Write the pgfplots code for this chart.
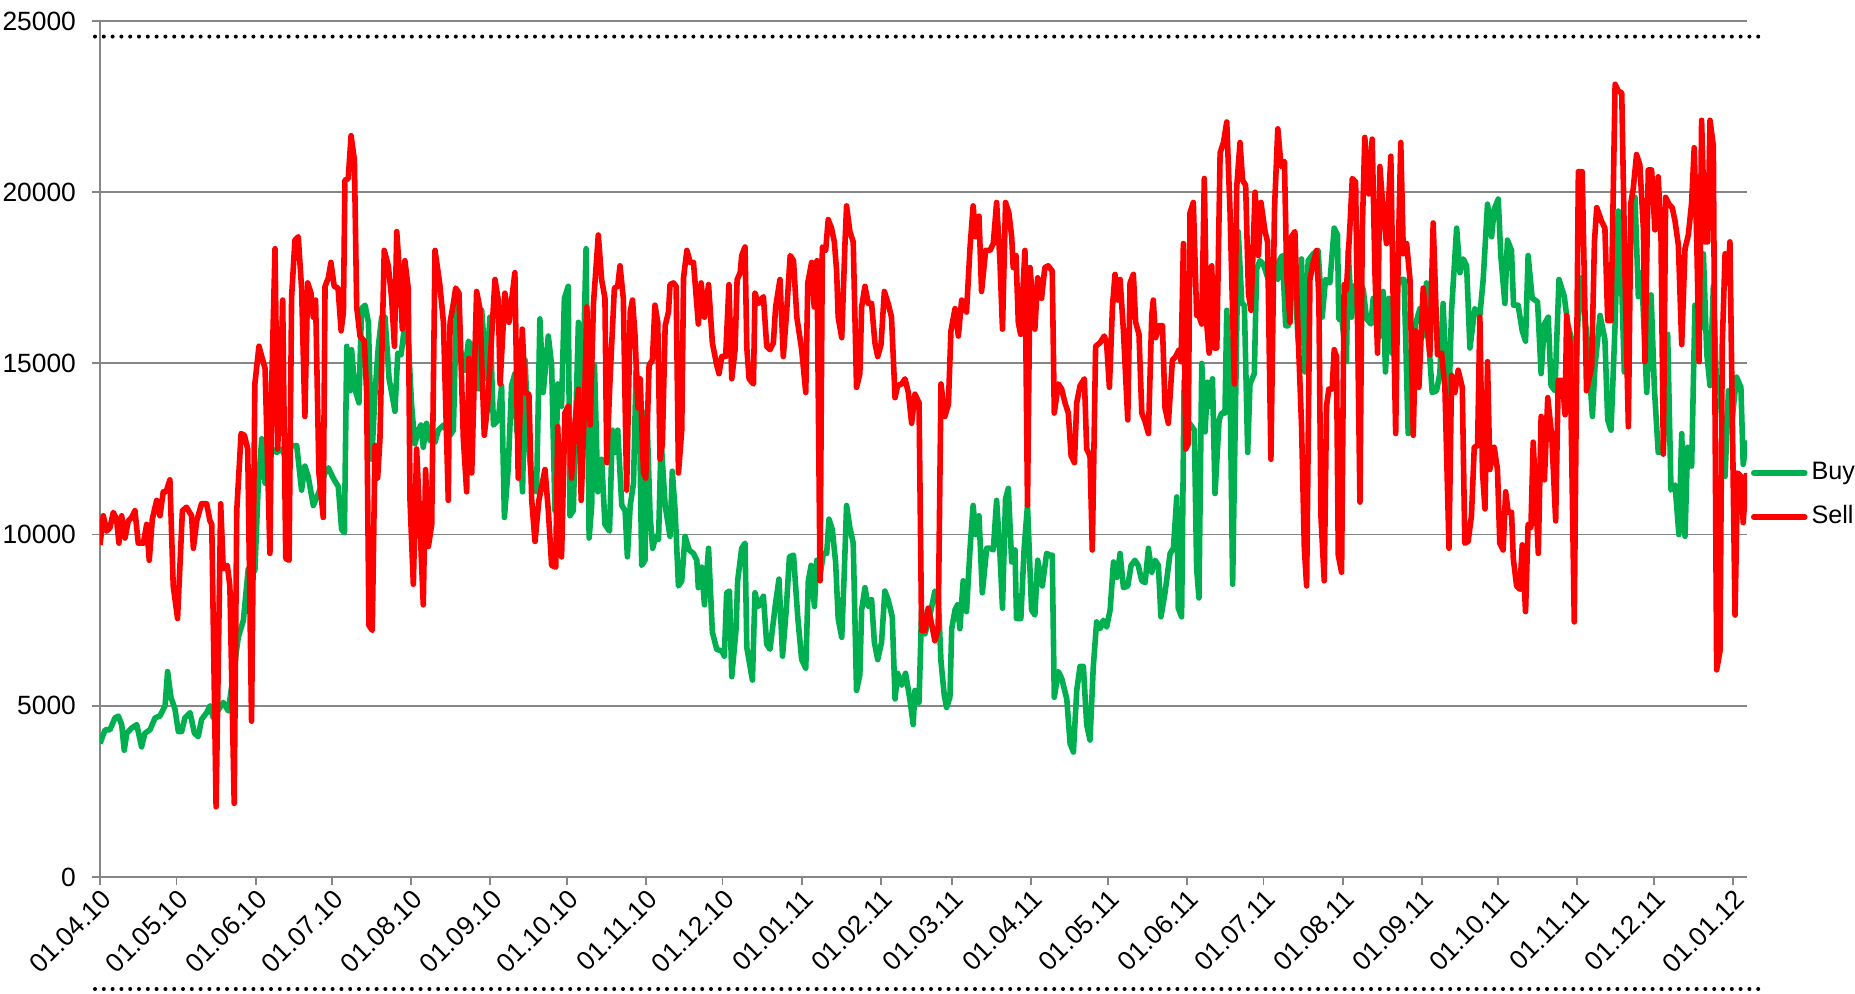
\documentclass[border=0pt]{standalone}
\usepackage{fontspec}
\setmainfont{Liberation Sans}
\usepackage{pgfplots}
\pgfplotsset{compat=1.18}
\usepackage{pgfplotstable}
\definecolor{buyc}{HTML}{00B050}
\definecolor{sellc}{HTML}{FF0000}
\definecolor{gridc}{HTML}{868686}

\pgfplotstableread{
day val
0.0 3900
2.0 4300
3.9 4300
5.9 4650
7.2 4700
8.5 4450
9.5 3700
10.5 4200
12.4 4350
14.4 4450
16.3 3800
17.6 4200
19.6 4300
21.6 4650
23.5 4700
25.5 5000
26.5 6000
27.8 5250
29.4 4900
30.7 4250
32.0 4250
33.3 4650
35.3 4800
37.0 4200
38.5 4100
39.8 4600
41.8 4800
43.1 5000
44.4 4650
48.3 5100
50.3 4850
54.2 7000
56.2 7500
58.1 9000
60.7 8950
62.0 11400
63.4 12800
64.7 11500
66.0 12200
67.9 12500
69.2 12400
71.2 12500
73.2 12200
75.1 12600
77.1 12600
79.0 11300
80.3 12000
81.6 11700
83.6 10850
85.6 11200
88.2 11800
89.5 11950
91.4 11650
93.4 11400
94.7 10150
95.8 10050
96.7 15500
98.0 14200
98.6 15400
99.9 14250
101.5 13850
102.5 16600
103.9 16700
105.2 16200
106.5 12200
107.8 14150
109.1 15500
110.4 16350
111.7 16350
113.3 14550
114.3 14150
115.6 13600
116.7 15300
118.0 15250
118.9 15800
120.2 16600
122.1 13800
123.4 12650
124.8 13050
125.8 13200
126.7 12550
128.0 13250
129.3 12750
131.3 12700
132.6 13050
134.6 13200
137.2 12900
138.5 13050
139.8 17050
141.1 15400
143.0 14800
144.4 15650
145.7 15500
147.0 14400
148.3 14250
149.6 16550
151.5 14550
152.8 16350
154.2 13200
156.1 13350
157.4 14350
158.5 10500
160.0 11950
161.3 14350
162.6 14700
163.3 13050
164.6 12750
165.6 11250
166.6 15100
167.9 12750
169.2 11500
171.1 11250
172.4 16300
173.7 14150
175.7 15800
177.0 14950
178.3 10700
179.4 14400
180.9 13750
182.0 16900
183.5 17250
184.2 10550
185.5 10700
187.5 16200
188.8 13050
190.5 18350
191.7 9900
192.7 10850
193.8 14950
195.1 11250
196.6 12200
197.9 10300
199.7 10100
200.8 13050
201.9 12400
202.9 13050
204.5 10850
205.8 10700
206.7 9350
207.8 10850
209.1 11500
210.1 14800
211.3 14150
212.3 9100
213.6 9250
214.3 13600
215.6 10550
216.6 9600
217.8 9950
218.9 9850
219.9 12750
221.5 10850
223.4 9950
224.3 11850
225.4 10700
226.7 8500
228.0 8650
229.3 9950
230.9 9550
232.6 9450
233.9 9250
234.5 8450
235.8 9050
236.9 7950
238.5 9600
240.0 7150
241.7 6650
243.7 6600
244.7 6450
245.6 8300
246.7 8350
247.6 5850
249.3 7250
249.9 8650
251.5 9600
252.8 9750
253.5 6700
255.7 5750
256.7 8300
258.0 7900
260.0 8200
261.3 6800
262.6 6650
264.6 7900
266.1 8700
267.5 6450
268.9 7750
270.2 9350
271.8 9400
273.5 7550
275.0 6350
276.6 6100
277.6 8650
278.7 9100
280.0 7900
280.9 9250
282.2 8800
283.5 9450
284.8 9450
285.7 10450
287.0 10150
288.3 9200
289.3 7550
290.7 7000
291.7 8900
292.6 10850
293.9 10200
295.2 9750
296.5 5450
297.8 5900
298.5 7800
299.8 8450
301.1 7900
302.4 8100
303.5 6850
304.8 6350
306.3 6850
307.6 8350
308.9 8100
310.5 7600
311.6 5200
312.6 5950
314.2 5600
315.7 5950
317.4 5200
318.7 4450
319.4 5450
321.0 5100
322.0 7800
323.3 7100
325.3 7650
327.2 8350
328.5 8200
329.6 6300
330.9 5300
331.8 4950
333.1 5250
333.8 7250
335.1 7800
336.1 7950
337.0 7250
338.3 8650
339.6 7750
341.0 9600
342.2 10850
343.2 10000
344.5 10550
345.8 8300
347.5 9600
348.8 9600
350.1 9550
351.4 11000
352.7 9450
353.7 7850
354.9 11050
356.0 11350
357.3 9200
358.6 9550
359.2 7550
360.9 7550
362.2 9600
363.5 10850
365.1 7800
366.4 7650
367.5 9250
369.3 8500
371.0 9450
372.3 9400
373.2 9400
374.0 5250
375.6 6000
376.9 5800
378.9 5200
380.2 3900
381.5 3650
382.8 5450
384.1 6150
385.4 6150
386.7 4450
388.0 4000
389.3 6150
390.6 7450
391.9 7250
393.2 7500
394.5 7300
395.9 7800
397.2 9200
398.5 8750
399.8 9450
401.1 8450
402.8 8500
404.1 9100
405.6 9250
406.9 9100
408.3 8650
409.6 8600
410.9 9600
412.2 8900
413.5 9250
414.8 9100
415.8 7600
417.4 8300
419.4 9450
420.7 9600
422.0 11100
422.6 7850
423.9 7600
424.9 14500
426.5 13300
428.9 13050
429.8 9000
430.7 8150
431.8 15000
433.1 13000
434.1 14450
435.0 13750
436.0 14550
437.0 11200
438.6 13350
439.6 13550
440.9 13550
441.6 16550
442.9 14400
443.9 8550
445.2 14550
446.1 18850
447.5 16750
448.5 16700
449.8 12400
450.7 14400
452.4 14700
453.3 17750
454.6 18000
455.9 17900
457.9 17450
459.9 17600
461.6 17450
462.1 18000
463.4 18150
464.7 16100
465.7 16100
467.0 17900
468.3 17450
469.6 15650
470.9 18050
472.2 14750
473.5 18000
475.5 18200
477.4 18300
479.0 16350
480.3 17450
482.0 17350
483.7 18950
485.0 18750
485.5 16300
486.8 16250
488.5 15050
489.2 18300
490.5 16350
491.8 17250
493.4 17450
495.1 17150
496.4 16300
498.1 16150
499.0 16900
500.3 16100
501.6 15800
502.9 17100
503.8 14750
505.1 16900
506.4 15300
508.1 17250
509.8 17450
511.1 17450
512.7 12950
514.0 14150
515.6 16150
517.3 16600
518.6 15800
519.9 17350
521.2 15150
522.1 14150
523.8 14200
525.1 14700
526.4 16750
527.7 14400
528.7 13950
529.7 16550
531.7 18950
533.0 17650
534.3 18050
535.6 17850
536.9 15450
538.8 16600
540.8 16400
542.1 17450
543.8 19650
545.4 18700
546.4 19500
548.0 19800
549.0 18150
550.6 16750
551.6 18600
553.2 18300
554.0 16700
555.8 16700
557.4 15950
558.7 15650
559.7 18150
561.3 16900
562.4 16850
563.4 16800
564.8 14700
566.1 16150
567.6 16350
568.7 14350
570.2 14200
571.8 17450
573.9 16950
575.2 16150
576.8 15700
578.1 14350
580.0 17500
581.3 16800
583.0 15600
584.9 13450
585.9 14900
587.9 16400
589.8 15700
590.9 13350
592.2 13050
593.8 16150
595.1 19450
596.4 17250
597.4 14750
598.7 16150
600.3 19300
601.6 19850
602.9 16950
604.2 17650
606.2 14150
607.9 17000
609.2 14250
610.7 12400
612.7 12400
614.4 15850
615.7 11300
617.3 11450
618.8 10000
619.9 12950
621.2 9950
622.2 12550
623.8 12000
625.1 16700
627.1 16000
628.4 18200
629.7 15300
631.0 14350
632.3 17250
633.6 14200
634.9 14200
636.9 11700
638.2 14200
639.5 13250
641.4 14600
643.1 14300
644.0 12050
645.3 12750
}\buydata

\pgfplotstableread{
day val
0.0 9700
1.3 10550
2.6 10100
3.9 10200
5.2 10650
6.5 10450
7.4 9750
8.5 10550
9.8 9900
11.1 10400
12.4 10500
13.7 10700
15.0 9750
17.0 9750
18.3 10300
19.3 9250
20.5 10450
22.2 11000
23.5 10550
24.8 11250
25.9 11250
27.4 11600
28.7 8500
30.4 7550
32.3 10700
33.9 10800
35.9 10550
36.6 9600
37.9 10400
39.8 10900
41.8 10900
43.1 10400
43.8 10300
45.5 2050
47.3 10900
48.3 9000
49.9 9100
50.9 8500
52.6 2150
53.6 10700
55.3 12950
56.6 12900
57.9 12500
59.4 4550
60.7 14400
62.3 15500
64.7 14850
66.6 9450
67.3 14400
68.6 18350
69.6 12500
70.8 14400
71.6 16850
72.8 9300
74.1 9250
75.1 16950
76.4 18600
77.7 18700
79.0 17200
80.3 13450
81.4 17350
82.7 17050
83.6 16350
84.5 16850
85.8 11800
87.5 10500
88.2 17250
89.5 17500
90.5 17950
91.8 17250
93.3 17200
94.5 15950
95.4 16500
96.0 20350
97.3 20400
98.4 21650
99.7 20950
100.6 16650
101.9 15800
103.6 15650
104.5 14150
105.4 7350
106.7 7200
107.8 12600
108.8 11650
109.7 12750
111.4 18300
113.0 17850
114.3 16900
115.4 15500
116.3 18850
117.6 17400
118.5 16000
119.5 18000
120.8 17200
121.5 11000
122.8 8550
124.1 12500
125.4 10300
126.7 7950
127.6 11900
128.7 9650
130.0 10300
131.3 18300
133.2 17300
134.6 16200
136.5 11000
137.2 16200
138.5 16750
139.4 17200
140.7 17050
142.4 12800
143.7 11250
144.6 15150
145.7 11800
147.6 17100
148.9 16600
150.6 12900
151.9 13750
153.5 15800
154.8 17450
156.1 16850
156.8 14400
158.7 17050
160.3 16200
162.6 17650
163.9 11650
165.5 16000
166.6 14150
168.1 14100
169.2 11000
170.5 9800
172.0 11000
174.4 11900
175.7 10700
177.0 9100
178.6 9050
179.4 13150
180.9 9350
182.2 13550
183.5 13750
184.8 11650
186.2 13300
187.5 14250
188.6 11000
189.9 13850
190.8 16650
192.1 13200
193.4 16750
195.3 18750
196.6 17450
197.9 16900
198.6 12100
199.9 14550
201.6 17200
202.9 17250
203.8 17850
205.1 16900
206.4 11300
207.8 16500
208.7 16850
209.7 15800
210.8 13700
211.7 14550
213.0 11800
213.9 11650
215.2 14950
216.5 15100
217.5 16700
218.6 16200
219.5 12200
220.4 12650
221.5 16100
222.8 16500
223.4 17300
224.7 17350
225.8 17250
226.7 11800
228.0 13050
228.7 17500
230.0 18300
231.3 17950
232.6 17950
234.5 16150
235.6 17350
236.9 16350
238.5 17300
240.0 15600
241.7 14950
242.6 14700
243.7 15200
245.2 15200
246.5 17300
247.6 14550
248.9 15400
249.7 17450
250.9 17650
251.5 18150
252.8 18400
253.5 15450
254.4 14550
256.1 14400
256.7 17050
258.0 16750
260.0 16950
261.3 15500
262.6 15400
263.9 15600
264.8 16650
266.5 17450
267.8 15200
269.1 16500
270.5 18150
271.8 18000
273.1 16350
275.0 15400
276.6 14150
277.4 17350
278.9 17950
279.9 16650
281.0 18000
282.2 8650
283.1 18400
284.4 18300
285.4 19200
286.7 18950
287.8 18550
288.7 17700
289.3 16350
290.7 15750
292.0 18550
292.6 19600
293.9 18850
295.2 18550
296.5 14300
297.8 14700
298.5 16650
299.8 17250
301.1 16750
302.4 16750
303.7 15600
304.8 15200
306.1 15550
307.4 17100
308.9 16750
310.2 16350
311.6 14000
312.6 14350
314.2 14400
315.5 14550
316.8 14150
318.1 13250
319.4 14100
321.0 13850
322.0 7200
323.3 7200
324.6 7850
325.9 7400
327.2 6900
328.5 7250
329.6 14400
331.1 13450
332.5 13800
333.5 15950
335.1 16600
336.4 15800
337.7 16850
339.6 16500
341.0 18400
342.2 19600
343.2 18700
344.5 19300
345.5 17100
347.1 18300
348.8 18300
350.1 18500
351.4 19700
352.7 18000
353.7 16000
354.9 19700
356.2 19400
357.3 18700
357.9 17800
359.0 18150
359.9 16200
360.8 15850
362.5 18300
363.5 10850
364.5 17800
366.4 16000
367.5 17500
369.0 16900
370.3 17800
371.6 17850
373.2 17700
374.0 13550
375.6 14400
376.9 14250
378.2 13850
379.5 13550
380.6 12300
381.9 12100
382.8 13850
384.1 14350
385.8 14550
386.7 12500
388.0 12300
388.9 9550
390.2 15500
391.9 15600
393.6 15800
394.5 15600
395.6 14300
396.8 16650
397.8 17600
398.9 16850
399.8 17450
401.1 15950
402.8 13350
403.7 17350
405.0 17600
405.9 16200
407.2 15850
408.3 13550
409.6 13300
410.9 12950
412.2 16400
412.8 16850
413.7 15750
415.1 16100
416.4 16100
417.4 13700
418.7 13250
420.3 15100
421.6 15200
422.9 15400
423.7 15050
424.6 18500
425.5 12500
426.5 12650
427.2 19400
428.5 19700
429.8 16400
430.7 16400
431.8 16150
432.8 20400
433.7 16200
434.7 15300
435.7 17850
436.7 15450
437.7 15450
439.0 21150
440.3 21450
441.6 22050
442.9 19400
444.6 14400
445.5 20150
446.8 21450
447.8 20350
449.0 20200
450.1 17050
451.1 16550
452.7 20000
454.0 18150
455.0 19700
456.6 18850
457.6 18550
458.9 12200
460.3 19500
461.6 21850
462.9 20750
464.2 20900
465.1 17600
466.4 16200
467.0 18700
468.3 18850
469.6 15800
470.9 13200
472.0 9600
472.9 8500
474.2 17450
475.5 17950
476.8 18300
477.7 16900
478.5 10550
479.8 8650
480.7 13750
481.6 14250
482.9 14250
483.7 15400
484.6 15200
485.3 9400
486.6 8900
487.6 17300
488.5 17150
489.9 19050
490.8 20400
492.1 20300
493.8 10950
494.7 18850
495.7 21600
497.3 19950
498.6 21550
499.7 17600
500.7 15300
501.6 20750
502.9 19450
504.2 18500
505.9 21050
506.8 16900
507.8 12950
508.8 18150
509.8 21450
510.8 18200
512.1 18500
513.4 17450
514.7 12900
515.6 15950
516.9 14300
518.6 17200
519.9 16200
521.2 15250
522.5 19100
524.2 15250
525.8 15300
527.1 14300
528.7 9600
529.7 14650
531.0 14150
532.3 14800
533.9 14300
534.9 9750
536.2 9800
537.5 10550
538.6 12550
539.9 12600
540.8 16350
541.8 11850
542.8 10750
543.8 15050
544.7 11900
546.4 12550
547.7 11900
548.6 9750
549.9 9550
550.9 11250
551.9 10650
553.2 10650
553.9 9300
555.2 8500
556.5 8400
557.4 9700
558.7 7750
559.7 10300
560.8 10200
561.7 12700
563.7 9450
564.8 13450
566.1 11600
567.4 14000
569.0 12850
570.5 10400
571.5 14500
573.1 14500
574.2 13500
574.8 16400
576.1 15600
577.8 7450
579.4 20600
580.9 20600
582.6 14200
584.6 14900
585.7 18550
586.6 19550
588.5 19150
589.8 18950
590.9 16250
592.2 16250
593.8 23150
595.1 22950
596.4 22900
597.7 17500
599.0 13150
600.0 19700
600.9 20100
602.2 21100
603.5 20800
604.9 18900
605.5 15050
606.8 20650
608.1 20650
609.4 18900
610.7 20450
611.8 18600
612.7 12350
613.6 19850
614.9 19650
616.2 19550
617.3 19150
618.6 18450
619.9 15550
621.2 18350
622.5 18750
623.8 19700
624.8 21300
625.8 18600
626.7 15050
627.7 22100
629.0 18550
630.1 18550
631.0 22100
632.3 21350
633.6 6050
634.9 6600
635.8 15550
636.9 18200
637.9 17350
638.8 18550
640.8 7650
641.8 11800
643.1 11700
644.0 10350
645.3 11800
}\selldata

\begin{document}
\begin{tikzpicture}
\useasboundingbox (-50pt,-58.5pt) rectangle (877.5pt,438.5pt);
\begin{axis}[
  at={(0pt,0pt)}, anchor=south west,
  scale only axis, width=823.5pt, height=428pt,
  xmin=0, xmax=645.5, ymin=0, ymax=25000,
  axis x line*=bottom, axis y line*=left,
  axis line style={gridc, line width=0.9pt, -},
  xtick={0,30,61,91,122,153,183,214,244,275,306,334,365,395,426,456,487,518,548,579,609,640},
  xticklabels={01.04.10,01.05.10,01.06.10,01.07.10,01.08.10,01.09.10,01.10.10,01.11.10,01.12.10,01.01.11,01.02.11,01.03.11,01.04.11,01.05.11,01.06.11,01.07.11,01.08.11,01.09.11,01.10.11,01.11.11,01.12.11,01.01.12},
  ytick={0,5000,10000,15000,20000,25000},
  ymajorgrids, grid style={gridc, line width=0.9pt},
  tick style={gridc, line width=0.9pt},
  tick align=outside, major tick length=4pt,
  /pgf/number format/assume math mode=true,
  /pgf/number format/1000 sep={},
  scaled y ticks=false,
  xticklabel style={rotate=45, anchor=north east, font=\fontsize{13.2}{15}\selectfont, inner sep=1pt},
  yticklabel style={font=\fontsize{13.2}{15}\selectfont, xshift=-4.5pt},
  legend style={draw=none, fill=none, at={(rel axis cs:1.0024,0.4463)}, anchor=west,
    inner sep=0pt, outer sep=0pt, font=\fontsize{12.6}{15}\selectfont,
    nodes={inner sep=0pt, text height=9.3pt, text depth=2.7pt},
    row sep=10pt, /tikz/column sep=2pt},
  legend image code/.code={\draw[#1, line cap=round] (0pt,0pt) -- (25.5pt,0pt);},
  legend cell align=left,
]
\addplot[buyc, line width=2.8pt, line join=round] table[x=day, y=val] {\buydata};
\addlegendentry{Buy}
\addplot[sellc, line width=2.8pt, line join=round] table[x=day, y=val] {\selldata};
\addlegendentry{Sell}
\end{axis}
\draw[black, line width=2pt, line cap=round, dash pattern=on 0pt off 4.4pt] (-2.5pt,420.2pt) -- (830pt,420.2pt);
\draw[black, line width=2pt, line cap=round, dash pattern=on 0pt off 4.4pt] (-2.5pt,-56pt) -- (829.5pt,-56pt);
\end{tikzpicture}
\end{document}
